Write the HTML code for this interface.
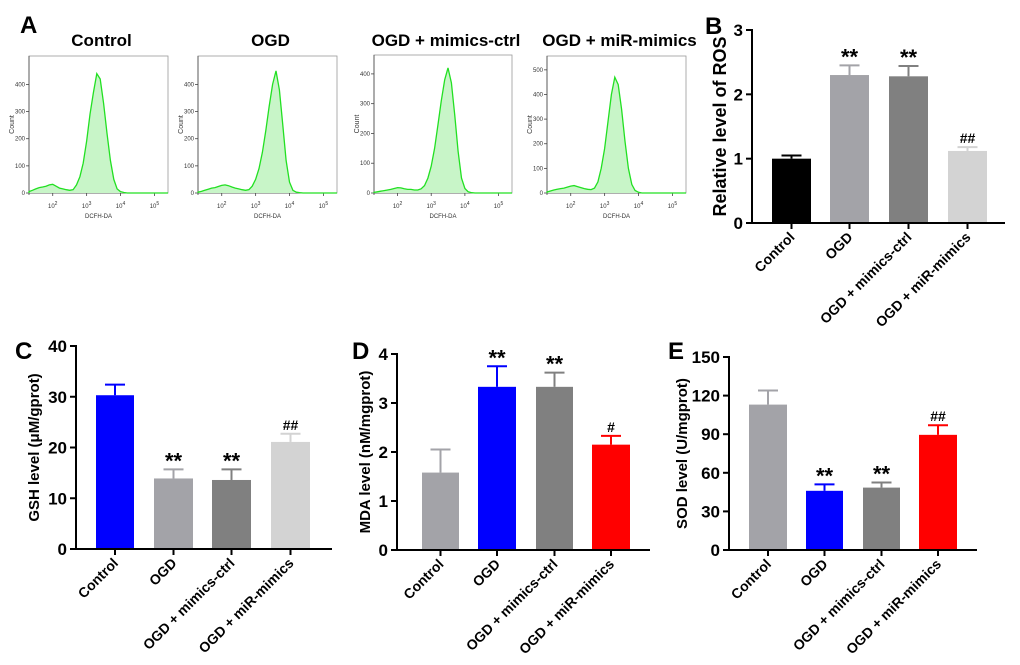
<!DOCTYPE html>
<html><head><meta charset="utf-8"><style>
html,body{margin:0;padding:0;background:#fff;}
svg{display:block;font-family:"Liberation Sans",Arial,sans-serif;}
</style></head><body>
<svg id="fig" width="1020" height="665" viewBox="0 0 1020 665">
<g id="flow"></g>
<g id="bars"></g>
</svg>
<script>
// ---- data ----
const categories = ["Control","OGD","OGD + mimics-ctrl","OGD + miR-mimics"];
const rosValues = [1.0, 2.3, 2.28, 1.12];
const rosErrors = [0.05, 0.15, 0.16, 0.06];
const rosMarks = ["", "**", "**", "##"];
const rosTicks = [0,1,2,3];
const gshValues = [30.3, 13.9, 13.6, 21.1];
const gshErrors = [2.1, 1.8, 2.1, 1.6];
const gshMarks = ["", "**", "**", "##"];
const gshTicks = [0,10,20,30,40];
const mdaValues = [1.58, 3.33, 3.33, 2.15];
const mdaErrors = [0.47, 0.42, 0.29, 0.18];
const mdaMarks = ["", "**", "**", "#"];
const mdaTicks = [0,1,2,3,4];
const sodValues = [113, 46, 48.5, 89.5];
const sodErrors = [11, 5, 4, 7.5];
const sodMarks = ["", "**", "**", "##"];
const sodTicks = [0,30,60,90,120,150];
// flow histograms: counts at log10 fluorescence 1.3,1.4,...,5.4
const logStart = 1.3, logStep = 0.1;
const histControl = [5,10,15,20,22,25,30,32,25,18,15,12,10,12,30,60,110,190,290,370,440,420,330,220,120,50,15,5,2,0,0,0,0,0,0,0,0,0,0,0,0,0];
const histOGD = [3,6,10,14,18,20,24,28,30,27,22,18,15,12,10,12,25,50,90,150,230,320,400,450,380,250,120,40,10,3,1,0,0,0,0,0,0,0,0,0,0,0];
const histCtrl2 = [2,4,6,8,10,12,15,18,17,14,12,12,10,10,14,25,50,90,150,230,310,380,420,370,260,140,50,15,4,1,0,0,0,0,0,0,0,0,0,0,0,0];
const histMimics = [4,8,12,15,18,20,24,28,30,26,22,18,15,14,20,45,100,180,290,400,470,440,340,210,100,35,10,3,0,0,0,0,0,0,0,0,0,0,0,0,0,0];
const flowTitles = ["Control","OGD","OGD + mimics-ctrl","OGD + miR-mimics"];
const flowYTicks = [[0,100,200,300,400],[0,100,200,300,400],[0,100,200,300,400],[0,100,200,300,400,500]];
const flowYMax = [490,490,450,540];
const xTickLogs = [2,3,4,5];

const NS="http://www.w3.org/2000/svg";
function mk(parent,tag,attrs,text){const e=document.createElementNS(NS,tag);for(const k in attrs)e.setAttribute(k,attrs[k]);if(text!==undefined)e.textContent=text;parent.appendChild(e);return e;}

// ---- flow panels ----
const flowG=document.getElementById('flow');
const flowHists=[histControl,histOGD,histCtrl2,histMimics];
const flowX=[[29,168],[198,337],[374,512],[547,686]];
const flowTop=[56,56,55,56], flowBot=193;
const tNames=["control","ogd","mimics-ctrl","mir-mimics"];
const L=mk(flowG,'text',{x:20,y:33,'font-size':24,'font-weight':'bold'},'A');


flowHists.forEach((h,i)=>{
  const g=mk(flowG,'g',{});
  
  
  const x0=flowX[i][0],x1=flowX[i][1],top=flowTop[i];
  const lx=v=>x0+(v-1.3)/(5.4-1.3)*(x1-x0);
  const ly=v=>flowBot-v/flowYMax[i]*(flowBot-top-4);
  const t=mk(g,'text',{x:(x0+x1)/2+3,y:46,'font-size':17,'font-weight':'bold','text-anchor':'middle'},flowTitles[i]);
  
  
  mk(g,'rect',{x:x0,y:top,width:x1-x0,height:flowBot-top,fill:'none',stroke:'#999','stroke-width':0.8});
  mk(g,'line',{x1:x0,y1:top,x2:x0,y2:flowBot+2,stroke:'#444','stroke-width':0.8});
  mk(g,'line',{x1:x0,y1:flowBot,x2:x1,y2:flowBot,stroke:'#444','stroke-width':0.8});
  flowYTicks[i].forEach(v=>{
    mk(g,'line',{x1:x0-3,y1:ly(v),x2:x0,y2:ly(v),stroke:'#444','stroke-width':0.8});
    mk(g,'text',{x:x0-4,y:ly(v)+2,'font-size':6,'text-anchor':'end',fill:'#333'},v);
  });
  xTickLogs.forEach(v=>{
    mk(g,'line',{x1:lx(v),y1:flowBot,x2:lx(v),y2:flowBot+3,stroke:'#444','stroke-width':0.8});
    const tt=mk(g,'text',{x:lx(v),y:flowBot+15,'font-size':6,'text-anchor':'middle',fill:'#333'},'10');
    mk(tt,'tspan',{dy:-3,'font-size':5},v);
  });
  mk(g,'text',{x:x0-15,y:(top+flowBot)/2,'font-size':7,'text-anchor':'middle',fill:'#333',transform:`rotate(-90 ${x0-15} ${(top+flowBot)/2})`},'Count');
  mk(g,'text',{x:(x0+x1)/2,y:flowBot+25,'font-size':6,'text-anchor':'middle',fill:'#333'},'DCFH-DA');
  let d=`M${lx(logStart)},${flowBot}`;
  h.forEach((v,k)=>{d+=` L${lx(logStart+k*logStep).toFixed(1)},${ly(v).toFixed(1)}`;});
  const area=mk(g,'path',{d:d+` L${lx(logStart+(h.length-1)*logStep)},${flowBot} Z`,fill:'#c8f5c8',stroke:'none'});
  
  
  mk(g,'path',{d:d,fill:'none',stroke:'#22e022','stroke-width':1.3});
});

// ---- bar charts ----
const barsG=document.getElementById('bars');
function barChart(cfg){
  const g=mk(barsG,'g',{});
  
  
  const {ax,ay0,ayTop,axEnd,max,ticks,values,errors,marks,colors,bars}=cfg;
  const y=v=>ay0-v/max*(ay0-ayTop);
  const lab=mk(g,'text',{x:cfg.lx,y:cfg.ly,'font-size':24,'font-weight':'bold'},cfg.letter);
  
  
  values.forEach((v,i)=>{
    const [b0,b1]=bars[i];const cx=(b0+b1)/2;
    const r=mk(g,'rect',{x:b0,y:y(v),width:b1-b0,height:ay0-y(v),fill:colors[i]});
    
    
    const et=y(v+errors[i]);
    mk(g,'line',{x1:cx,y1:y(v),x2:cx,y2:et,stroke:colors[i],'stroke-width':2});
    mk(g,'line',{x1:cx-10,y1:et,x2:cx+10,y2:et,stroke:colors[i],'stroke-width':2});
    if(marks[i]){
      const big=marks[i]==='**';
      mk(g,'text',{x:cx,y:et+(big?-1:-4),'font-size':big?22:14,'font-weight':'bold','text-anchor':'middle'},marks[i]);
    }
    mk(g,'line',{x1:cx,y1:ay0,x2:cx,y2:ay0+6,stroke:'#000','stroke-width':2});
    const tx=cx+4,ty=ay0+15;
    const cl=mk(g,'text',{x:tx,y:ty,'font-size':14,'font-weight':'bold','text-anchor':'end',transform:`rotate(-45 ${tx} ${ty})`},categories[i]);
    
    
  });
  mk(g,'line',{x1:ax,y1:ayTop-1,x2:ax,y2:ay0+1,stroke:'#000','stroke-width':2});
  mk(g,'line',{x1:ax-1,y1:ay0,x2:axEnd,y2:ay0,stroke:'#000','stroke-width':2});
  ticks.forEach(v=>{
    mk(g,'line',{x1:ax-6,y1:y(v),x2:ax,y2:y(v),stroke:'#000','stroke-width':2});
    mk(g,'text',{x:ax-9,y:y(v)+6,'font-size':17,'font-weight':'bold','text-anchor':'end'},v);
  });
  const tx=cfg.titleX,ty=(ay0+ayTop)/2;
  const yt=mk(g,'text',{x:tx,y:ty,'font-size':cfg.titleSize,'font-weight':'bold','text-anchor':'middle',transform:`rotate(-90 ${tx} ${ty})`},cfg.title);
  
  
}
barChart({name:'ros-chart',letter:'B',lx:705,ly:34,ax:752,ay0:223,ayTop:30,axEnd:1005,max:3,ticks:rosTicks,values:rosValues,errors:rosErrors,marks:rosMarks,
  colors:['#000','#a3a3a8','#808080','#d3d3d3'],bars:[[772,811],[830,869],[889,928],[948,987]],title:'Relative level of ROS',titleX:726,titleSize:18});
barChart({name:'gsh-chart',letter:'C',lx:15,ly:359,ax:76,ay0:549,ayTop:346,axEnd:332,max:40,ticks:gshTicks,values:gshValues,errors:gshErrors,marks:gshMarks,
  colors:['#0000ff','#a3a3a8','#808080','#d3d3d3'],bars:[[96,134],[154,193],[212,251],[271,310]],title:'GSH level (\u03bcM/gprot)',titleX:39,titleSize:15});
barChart({name:'mda-chart',letter:'D',lx:352,ly:359,ax:397,ay0:550,ayTop:354,axEnd:650,max:4,ticks:mdaTicks,values:mdaValues,errors:mdaErrors,marks:mdaMarks,
  colors:['#a3a3a8','#0000ff','#808080','#ff0000'],bars:[[422,459],[478,516],[536,573],[592,630]],title:'MDA level (nM/mgprot)',titleX:370,titleSize:15});
barChart({name:'sod-chart',letter:'E',lx:668,ly:359,ax:729,ay0:550,ayTop:357,axEnd:977,max:150,ticks:sodTicks,values:sodValues,errors:sodErrors,marks:sodMarks,
  colors:['#a3a3a8','#0000ff','#808080','#ff0000'],bars:[[749,787],[806,843],[863,900],[919,957]],title:'SOD level (U/mgprot)',titleX:687,titleSize:15});
</script>
</body></html>
